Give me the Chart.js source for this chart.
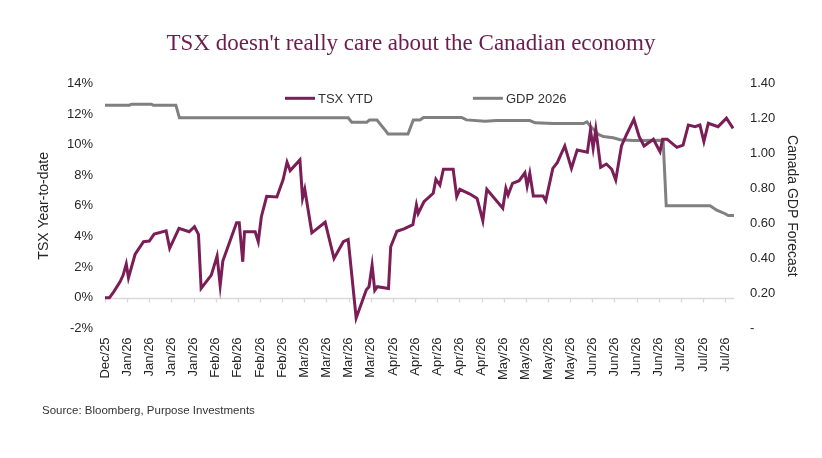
<!DOCTYPE html>
<html>
<head>
<meta charset="utf-8">
<script src="https://cdn.jsdelivr.net/npm/chart.js@4.4.1/dist/chart.umd.min.js"></script>
<style>
  html, body { margin: 0; padding: 0; background: #fff; }
  #wrap { position: relative; width: 822px; height: 458px; }
  #src { position: absolute; left: 42px; top: 404px; font: 11.5px 'Liberation Sans', Arial, sans-serif; color: #333; }
</style>
</head>
<body>
<div id="wrap">
  <canvas id="c" width="822" height="458"></canvas>
  <div id="src">Source: Bloomberg, Purpose Investments</div>
</div>
<script>
// Tick labels (one every 5 trading days)
const weekLabels = ['Dec/25','Jan/26','Jan/26','Jan/26','Jan/26','Feb/26','Feb/26','Feb/26','Feb/26',
  'Mar/26','Mar/26','Mar/26','Mar/26','Apr/26','Apr/26','Apr/26','Apr/26','Apr/26',
  'May/26','May/26','May/26','May/26','Jun/26','Jun/26','Jun/26','Jun/26','Jul/26','Jul/26','Jul/26'];

// TSX YTD (%) — trading-day index and value
const tsxDays = [0,1,2,3.4,4.1,4.8,5.3,6.8,8.7,10,11.1,13.8,14.6,16.7,19,20.2,21.1,21.7,24,25.3,26,26.6,29.7,30.3,31.1,31.5,33.9,34.6,35.3,36.5,38.8,40.2,41.1,41.8,44,44.6,45.1,46.7,49.7,51.7,53.8,54.9,56.7,59,59.6,60.3,60.9,61.5,64,64.5,65.9,67.5,69.5,70.3,70.7,72,74.1,74.7,75.6,76.4,78.6,79.4,80.1,82.4,84,85.3,86.2,89.8,90.5,91,92,93.5,94.8,95.3,95.9,96.7,98.9,99.5,101.1,102.1,103.8,105.3,106.6,108.9,109.6,110.2,110.8,111.9,113.2,114.4,115.3,116.6,117.8,119.4,120.6,121.7,123.8,125.3,125.9,126.9,129.1,130.5,131.7,133.2,134.3,135.2,136.2,138.4,140.3,141.8];
const tsxValues = [0,0,0.4,1.04,1.48,2.2,1.3,2.84,3.66,3.7,4.16,4.37,3.23,4.53,4.31,4.64,4.14,0.61,1.48,2.72,0.8,2.4,4.9,4.9,2.35,4.31,4.31,3.66,5.29,6.62,6.58,7.7,8.85,8.3,9.0,6.5,7.08,4.24,4.93,2.57,3.66,3.81,-1.33,0.52,0.72,2.13,0.48,0.72,0.61,3.33,4.34,4.5,4.77,6.05,5.51,6.27,6.82,7.73,7.36,8.39,8.39,6.6,7.08,6.77,6.49,5.03,7.08,5.84,7.14,6.71,7.47,7.64,8.16,7.29,8.12,6.64,6.64,6.33,8.45,8.82,9.91,8.45,9.65,9.5,10.95,9.76,11.0,8.52,8.73,8.39,7.69,9.91,10.69,11.65,10.51,9.91,10.35,9.54,10.35,10.35,9.82,9.97,11.28,11.17,11.28,10.19,11.39,11.17,11.72,11.06];

// GDP 2026 forecast — trading-day index and value
const gdpDays = [0,5.5,6,10.5,10.9,16,16.8,54.9,55.7,59.1,59.7,61.4,63.6,63.9,68.4,69.6,71.1,71.9,80.5,81.6,85.8,88.4,95.9,97.1,101.2,108,108.8,109.6,111.4,112.5,114.7,116.3,119.3,126,126.7,136.6,138.1,140,140.7,142];
const gdpValues = [1.275,1.275,1.281,1.281,1.275,1.275,1.203,1.203,1.178,1.178,1.19,1.19,1.121,1.11,1.11,1.19,1.19,1.205,1.205,1.191,1.183,1.187,1.187,1.174,1.17,1.17,1.18,1.155,1.108,1.096,1.089,1.078,1.073,1.075,0.70,0.70,0.675,0.655,0.645,0.645];

const TSX_COLOR = '#7b1e57';
const GDP_COLOR = '#808080';

const zeroAxis = {
  id: 'zeroAxis',
  beforeDatasetsDraw(chart) {
    const { ctx, chartArea, scales: { x, y } } = chart;
    const py = Math.round(y.getPixelForValue(0)) + 0.5;
    ctx.save();
    ctx.strokeStyle = '#d9d9d9';
    ctx.lineWidth = 1.3;
    ctx.beginPath();
    ctx.moveTo(chartArea.left, py);
    ctx.lineTo(chartArea.right, py);
    x.ticks.forEach(t => {
      const px = Math.round(x.getPixelForValue(t.value)) + 0.5;
      ctx.moveTo(px, py);
      ctx.lineTo(px, py + 4);
    });
    ctx.stroke();
    ctx.restore();
  }
};

const innerLegend = {
  id: 'innerLegend',
  afterDraw(chart) {
    const { ctx, chartArea } = chart;
    ctx.save();
    ctx.font = '13px "Liberation Sans", Arial, sans-serif';
    ctx.textBaseline = 'middle';
    ctx.fillStyle = '#333';
    let xPos = chartArea.left + 180;
    const yPos = chartArea.top + 15;
    chart.data.datasets.forEach((ds, i) => {
      ctx.strokeStyle = ds.borderColor;
      ctx.lineWidth = 3;
      ctx.beginPath();
      ctx.moveTo(xPos, yPos);
      ctx.lineTo(xPos + 30, yPos);
      ctx.stroke();
      ctx.fillText(ds.label, xPos + 33, yPos + 1);
      xPos += 33 + ctx.measureText(ds.label).width + 100;
    });
    ctx.restore();
  }
};

new Chart(document.getElementById('c'), {
  type: 'line',
  data: {
    datasets: [
      {
        label: 'TSX YTD',
        data: tsxDays.map((d, i) => ({ x: d, y: tsxValues[i] })),
        borderColor: TSX_COLOR,
        borderWidth: 3,
        pointRadius: 0,
        tension: 0,
        yAxisID: 'y'
      },
      {
        label: 'GDP 2026',
        data: gdpDays.map((d, i) => ({ x: d, y: gdpValues[i] })),
        borderColor: GDP_COLOR,
        borderWidth: 3,
        pointRadius: 0,
        tension: 0,
        yAxisID: 'y1'
      }
    ]
  },
  options: {
    responsive: false,
    animation: false,
    layout: { padding: { top: 0, left: 0, right: 0, bottom: 60 } },
    plugins: {
      legend: { display: false },
      tooltip: { enabled: false },
      title: {
        display: true,
        text: "TSX doesn't really care about the Canadian economy",
        color: '#6d1c4e',
        font: { family: '"Liberation Serif", "Times New Roman", serif', size: 23, weight: 'normal' },
        padding: { top: 30, bottom: 25.7 }
      }
    },
    scales: {
      x: {
        type: 'linear',
        min: 0,
        max: 142,
        grid: { display: false, drawTicks: false },
        border: { display: false },
        afterBuildTicks: s => { s.ticks = weekLabels.map((_, i) => ({ value: i * 5 })); },
        afterFit: s => { s.height = 69.6; },
        ticks: {
          autoSkip: false,
          minRotation: 90,
          maxRotation: 90,
          padding: 9,
          color: '#262626',
          font: { family: '"Liberation Sans", Arial, sans-serif', size: 13 },
          callback: v => weekLabels[Math.round(v / 5)]
        }
      },
      y: {
        position: 'left',
        min: -2,
        max: 14,
        grid: { display: false, drawTicks: false },
        border: { display: false },
        afterFit: s => { s.width = 105; },
        ticks: {
          stepSize: 2,
          padding: 12,
          color: '#262626',
          font: { family: '"Liberation Sans", Arial, sans-serif', size: 13 },
          callback: v => v + '%'
        },
        title: {
          display: true,
          text: 'TSX Year-to-date',
          color: '#262626',
          font: { family: '"Liberation Sans", Arial, sans-serif', size: 14 },
          padding: { top: 36, bottom: 0 }
        }
      },
      y1: {
        position: 'right',
        min: 0,
        max: 1.4,
        grid: { display: false, drawTicks: false },
        border: { display: false },
        afterFit: s => { s.width = 88; },
        ticks: {
          stepSize: 0.2,
          padding: 16,
          color: '#262626',
          font: { family: '"Liberation Sans", Arial, sans-serif', size: 13 },
          callback: v => (Math.abs(v) < 1e-9 ? '-' : v.toFixed(2))
        },
        title: {
          display: true,
          text: 'Canada GDP Forecast',
          color: '#262626',
          font: { family: '"Liberation Sans", Arial, sans-serif', size: 14 },
          padding: { top: 21.6, bottom: 0 }
        }
      }
    }
  },
  plugins: [zeroAxis, innerLegend]
});
</script>
</body>
</html>
